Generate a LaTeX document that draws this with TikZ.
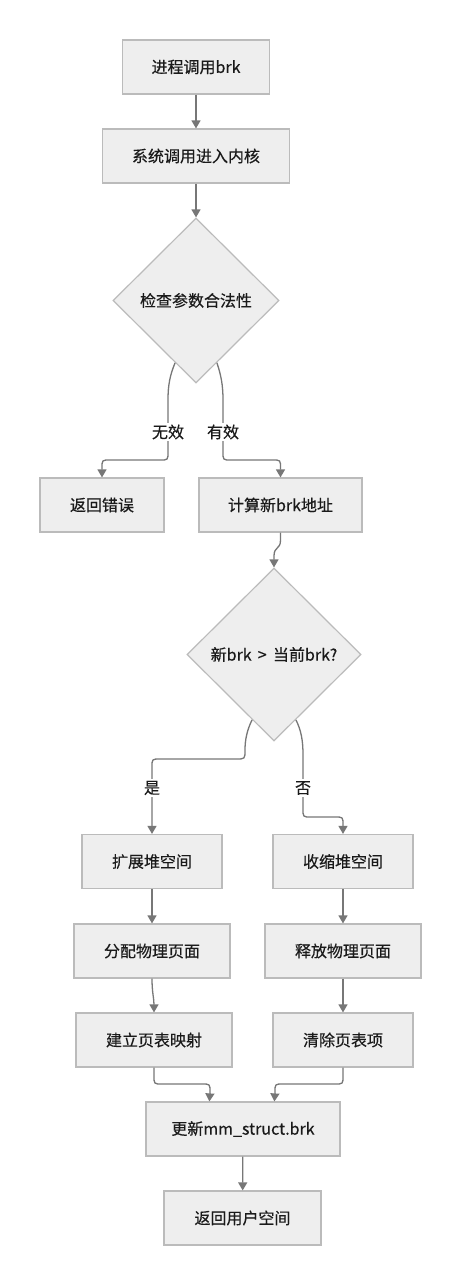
\documentclass[tikz,border=0pt]{standalone}
\usepackage{fontspec}
\setmainfont{Noto Sans CJK SC}[FakeBold=0.4]
\usetikzlibrary{shapes.geometric,arrows.meta,calc}
\definecolor{boxfill}{HTML}{EEEEEE}
\definecolor{boxline}{HTML}{BBBBBB}
\definecolor{edgecol}{HTML}{777777}
\definecolor{txt}{HTML}{1A1A1A}
\begin{document}
\begin{tikzpicture}[x=1pt,y=-1pt,
  every node/.style={font=\fontsize{16pt}{19pt}\selectfont, text=txt},
  pbox/.style={draw=boxline, fill=boxfill, line width=1.2pt, rectangle, minimum height=54pt, inner sep=0pt},
  dbox/.style={draw=boxline, fill=boxfill, line width=1.2pt, diamond, aspect=1, inner sep=0pt},
  arr/.style={draw=edgecol, line width=1.3pt, -{Triangle[width=9pt,length=8pt]}},
  lbl/.style={fill=white, inner sep=2pt}]
\useasboundingbox (0,0) rectangle (461,1285);
\fill[white] (0,0) rectangle (461,1285);

\node[pbox, minimum width=147pt] (b1) at (196,67) {进程调用brk};
\node[pbox, minimum width=187pt] (b2) at (196,156) {系统调用进入内核};
\node[dbox, minimum width=166pt, minimum height=165pt] (d1) at (196,300.5) {检查参数合法性};
\node[pbox, minimum width=124pt] (err) at (102,505) {返回错误};
\node[pbox, minimum width=163pt] (calc) at (280.5,505) {计算新brk地址};
\node[dbox, minimum width=174pt, minimum height=173pt] (d2) at (274,654.5) {新brk \,>\, 当前brk?};
\node[pbox, minimum width=140pt] (exp) at (152,861.5) {扩展堆空间};
\node[pbox, minimum width=140pt] (shr) at (343,861.5) {收缩堆空间};
\node[pbox, minimum width=156pt] (alloc) at (152,951) {分配物理页面};
\node[pbox, minimum width=156pt] (free) at (343,951) {释放物理页面};
\node[pbox, minimum width=156pt] (map) at (154,1040) {建立页表映射};
\node[pbox, minimum width=140pt] (clr) at (343,1040) {清除页表项};
\node[pbox, minimum width=194pt] (upd) at (243,1129) {更新mm\_struct.brk};
\node[pbox, minimum width=157pt] (ret) at (242.5,1218) {返回用户空间};

\coordinate (d1l) at ($(d1.south)!0.25!(d1.west)$);
\coordinate (d1r) at ($(d1.south)!0.25!(d1.east)$);
\coordinate (d2l) at ($(d2.south)!0.25!(d2.west)$);
\coordinate (d2r) at ($(d2.south)!0.25!(d2.east)$);
\coordinate (updl) at ($(upd.north west)+(64,0)$);
\coordinate (updr) at ($(upd.north west)+(129,0)$);

\draw[arr] (b1) -- (b2);
\draw[arr] (b2) -- (d1);
\draw[arr] (d1l) .. controls (170,375) and (168,385) .. (168,400) -- (168,452) .. controls (168,460) .. (160,460) -- (110,460) .. controls (102,460) .. (102,468) -- (err.north);
\draw[arr] (d1r) .. controls (221,375) and (223,385) .. (223,400) -- (223,452) .. controls (223,460) .. (231,460) -- (272.5,460) .. controls (280.5,460) .. (280.5,468) -- (calc.north);
\draw[arr] (calc.south) -- (280.5,540) .. controls (280.5,550) and (274,546) .. (274,556) -- (d2.north);
\draw[arr] (d2l) .. controls (247,730) and (245,740) .. (245,750) .. controls (245,759) .. (236,759) -- (160,759) .. controls (152,759) .. (152,767) -- (exp.north);
\draw[arr] (d2r) .. controls (301,730) and (303,740) .. (303,755) -- (303,809) .. controls (303,817) .. (311,817) -- (335,817) .. controls (343,817) .. (343,825) -- (shr.north);
\draw[arr] (exp) -- (alloc);
\draw[arr] (shr) -- (free);
\draw[arr] (alloc.south) .. controls +(0,14) and +(0,-14) .. (map.north);
\draw[arr] (free) -- (clr);
\draw[arr] (map.south) -- (154,1076) .. controls (154,1084) .. (162,1084) -- (202,1084) .. controls (210,1084) .. (210,1092) -- (updl);
\draw[arr] (clr.south) -- (343,1076) .. controls (343,1084) .. (335,1084) -- (283,1084) .. controls (275,1084) .. (275,1092) -- (updr);
\draw[arr] (upd) -- (ret);

\node[lbl] (lw) at (168,432) {无效};
\node[lbl] (ly) at (223,432) {有效};
\node[lbl] (ls) at (152,788) {是};
\node[lbl] (lf) at (303,788) {否};
\end{tikzpicture}
\end{document}
